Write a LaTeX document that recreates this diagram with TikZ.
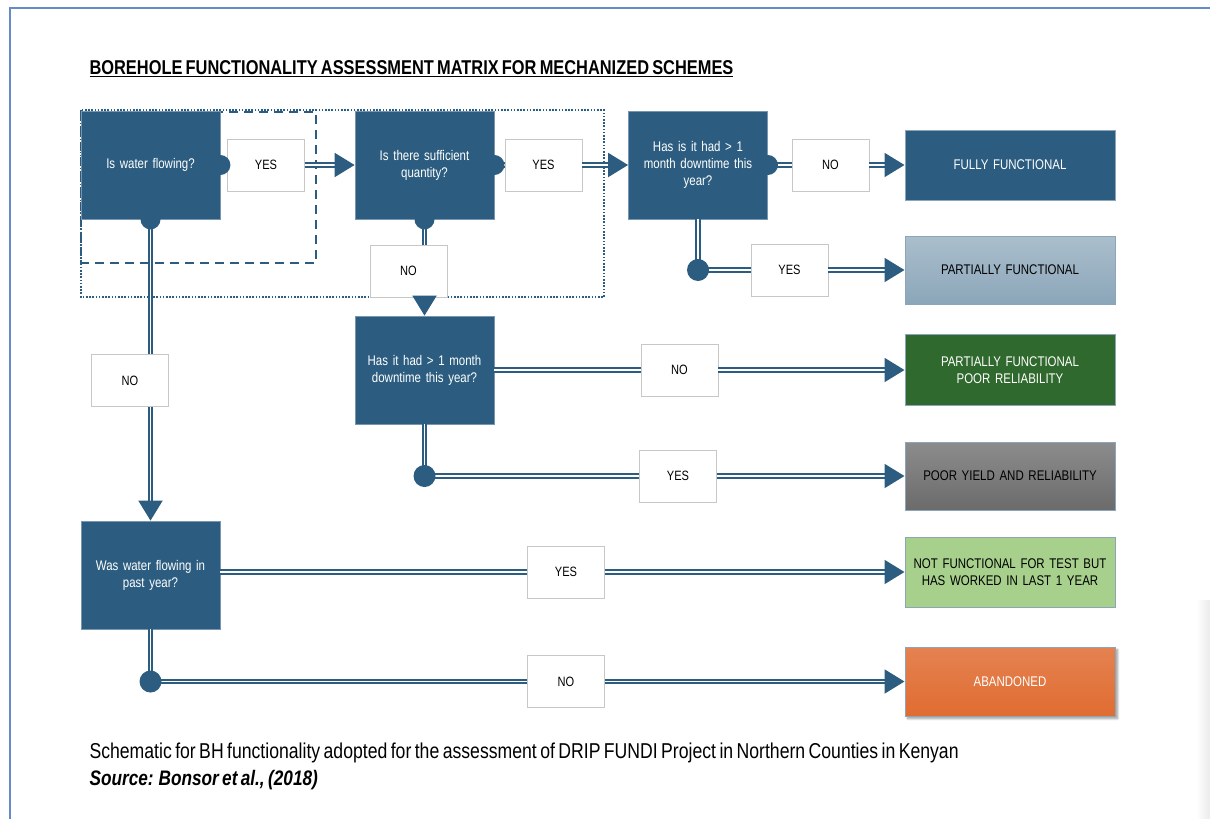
\documentclass[tikz,border=0pt]{standalone}
\usepackage{fontspec}
\setmainfont{Liberation Sans}[FakeStretch=0.82, WordSpace=0.7]
\usepackage{tikz}
\usetikzlibrary{arrows.meta,shadows.blur}
\tikzset{%
	question/.style={rectangle, draw=QEdge, line width=0.8pt, fill=QBlue,
		text=white, minimum width=139pt, minimum height=108pt,
		text width=130pt, align=center, font=\fontsize{14}{17}\selectfont},
	answer/.style={rectangle, draw=black!22, line width=0.8pt, fill=white,
		minimum width=77pt, minimum height=52pt, font=\fontsize{13.5}{16}\selectfont},
	outcome/.style={rectangle, draw=OEdge, line width=1pt,
		minimum width=210pt, minimum height=70pt, text width=200pt,
		align=center, font=\fontsize{14}{17}\selectfont},
	flow/.style={draw=QBlue, line width=2pt, double=white, double distance=1.8pt},
	knob/.style={fill=QBlue},
}
\definecolor{QBlue}{RGB}{44,93,128}
\definecolor{QEdge}{RGB}{120,150,175}
\definecolor{OEdge}{RGB}{140,165,185}
\definecolor{FrameBlue}{RGB}{100,140,200}
\definecolor{DarkGreen}{RGB}{48,105,46}
\definecolor{LightGreen}{RGB}{166,208,140}
\definecolor{Orange}{RGB}{224,108,50}

\begin{document}
\begin{tikzpicture}[x=1pt, y=1pt, >={Triangle[length=20pt,width=24pt]}]
    \useasboundingbox (0,0) rectangle (1210,-819);

    % page frame
    \draw[FrameBlue, line width=1.5pt] (10,-819) -- (10,-8) -- (1210,-8);
    \shade[left color=white, right color=black!8] (1196,-600) rectangle (1210,-819);

    \node[anchor=west, font=\bfseries\fontsize{20}{22}\selectfont] (Title) at (86,-69)
        {\underline{BOREHOLE FUNCTIONALITY ASSESSMENT MATRIX FOR MECHANIZED SCHEMES}};

    % grouping frames
    \draw[QBlue, line width=2.5pt, dash pattern=on 9pt off 6pt] (81,-112) rectangle (316,-263);
    \draw[QBlue, line width=2pt, dash pattern=on 1.6pt off 1.6pt] (81,-110) rectangle (604,-297);

    % questions
    \node [question] (Flowing) at (150.5,-165) {Is water flowing?};
    \node [question] (Quantity) [right of = Flowing, node distance=274pt] {Is there sufficient\\quantity?};
    \node [question] (Downtime) [right of = Quantity, node distance=273.5pt] {Has is it had > 1\\month downtime this\\year?};
    \node [question] (DowntimeLow) [below of = Quantity, node distance=205pt] {Has it had > 1 month\\downtime this year?};
    \node [question] (PastYear) [below of = Flowing, node distance=410pt] {Was water flowing in\\past year?};

    % outcomes
    \node [outcome, fill=QBlue, text=white] (Fully) at (1010,-165) {FULLY FUNCTIONAL};
    \node [outcome, top color=QBlue!40, bottom color=QBlue!55, minimum height=68pt] (Partial)
        [below of = Fully, node distance=105pt] {PARTIALLY FUNCTIONAL};
    \node [outcome, fill=DarkGreen, text=white, minimum height=71pt] (PartialPoor)
        [below of = Partial, node distance=100pt] {PARTIALLY FUNCTIONAL\\POOR RELIABILITY};
    \node [outcome, top color=black!45, bottom color=black!58, minimum height=68pt] (PoorYield)
        [below of = PartialPoor, node distance=106pt] {POOR YIELD AND RELIABILITY};
    \node [outcome, fill=LightGreen] (NotFunc)
        [below of = PoorYield, node distance=96pt] {NOT FUNCTIONAL FOR TEST BUT\\HAS WORKED IN LAST 1 YEAR};
    \node [outcome, top color=Orange!85, bottom color=Orange, text=white, minimum height=69pt,
        blur shadow={shadow blur steps=8}] (Abandoned)
        [below of = NotFunc, node distance=109.5pt] {ABANDONED};

    % answers
    \node [answer] (Yes01) [right of = Flowing, node distance=115.5pt] {YES};
    \node [answer] (Yes02) [right of = Quantity, node distance=119pt] {YES};
    \node [answer] (No03) [right of = Downtime, node distance=132.5pt] {NO};
    \node [answer] (Yes03) [left of = Partial, node distance=220.5pt] {YES};
    \node [answer] (No02) [below of = Quantity, node distance=106pt, xshift=-16pt] {NO};
    \node [answer] (No04) [right of = DowntimeLow, node distance=255pt] {NO};
    \node [answer] (Yes04) [left of = PoorYield, node distance=332pt] {YES};
    \node [answer] (No01) [below of = Flowing, node distance=215.5pt, xshift=-20.5pt] {NO};
    \node [answer] (Yes05) [left of = NotFunc, node distance=444pt] {YES};
    \node [answer] (No05) [left of = Abandoned, node distance=444pt] {NO};

    % top row
    \path[flow] (Flowing) -- (Yes01);
    \path[flow,->] (Yes01) -- (Quantity);
    \path[flow] (Quantity) -- (Yes02);
    \path[flow,->] (Yes02) -- (Downtime);
    \path[flow] (Downtime) -- (No03);
    \path[flow,->] (No03) -- (Fully);
    \fill[knob] (Flowing.east) circle (10pt);
    \fill[knob] (Quantity.east) circle (10pt);
    \fill[knob] (Downtime.east) circle (10pt);

    \path[flow] (Downtime.south) |- (Yes03.west);
    \path[flow,->] (Yes03) -- (Partial);
    \fill[knob] (Downtime.south |- Yes03.west) circle (11pt);

    % second question
    \path[flow] (Quantity.south) -- (Quantity.south |- No02.north);
    \path[flow,->] (Quantity.south |- No02.south) -- (DowntimeLow.north);
    \fill[knob] (Quantity.south) circle (10pt);
    \path[flow] (DowntimeLow) -- (No04);
    \path[flow,->] (No04) -- (PartialPoor);
    \path[flow] (DowntimeLow.south) |- (Yes04.west);
    \path[flow,->] (Yes04) -- (PoorYield);
    \fill[knob] (DowntimeLow.south |- Yes04.west) circle (11pt);

    % no water flowing
    \path[flow] (Flowing.south) -- (Flowing.south |- No01.north);
    \path[flow,->] (Flowing.south |- No01.south) -- (PastYear.north);
    \fill[knob] (Flowing.south) circle (10pt);
    \path[flow] (PastYear.east |- Yes05.west) -- (Yes05.west);
    \path[flow,->] (Yes05) -- (NotFunc);
    \path[flow] (PastYear.south) |- (No05.west);
    \path[flow,->] (No05) -- (Abandoned);
    \fill[knob] (PastYear.south |- No05.west) circle (11pt);

    \node[anchor=west, font=\fontsize{21.5}{24}\selectfont] (Caption) at (86,-753)
        {Schematic for BH functionality adopted for the assessment of DRIP FUNDI Project in Northern Counties in Kenyan};
    \node[anchor=west, font=\bfseries\itshape\fontsize{21}{24}\selectfont] (Source) at (86,-780)
        {Source: Bonsor et al., (2018)};
\end{tikzpicture}
\end{document}
